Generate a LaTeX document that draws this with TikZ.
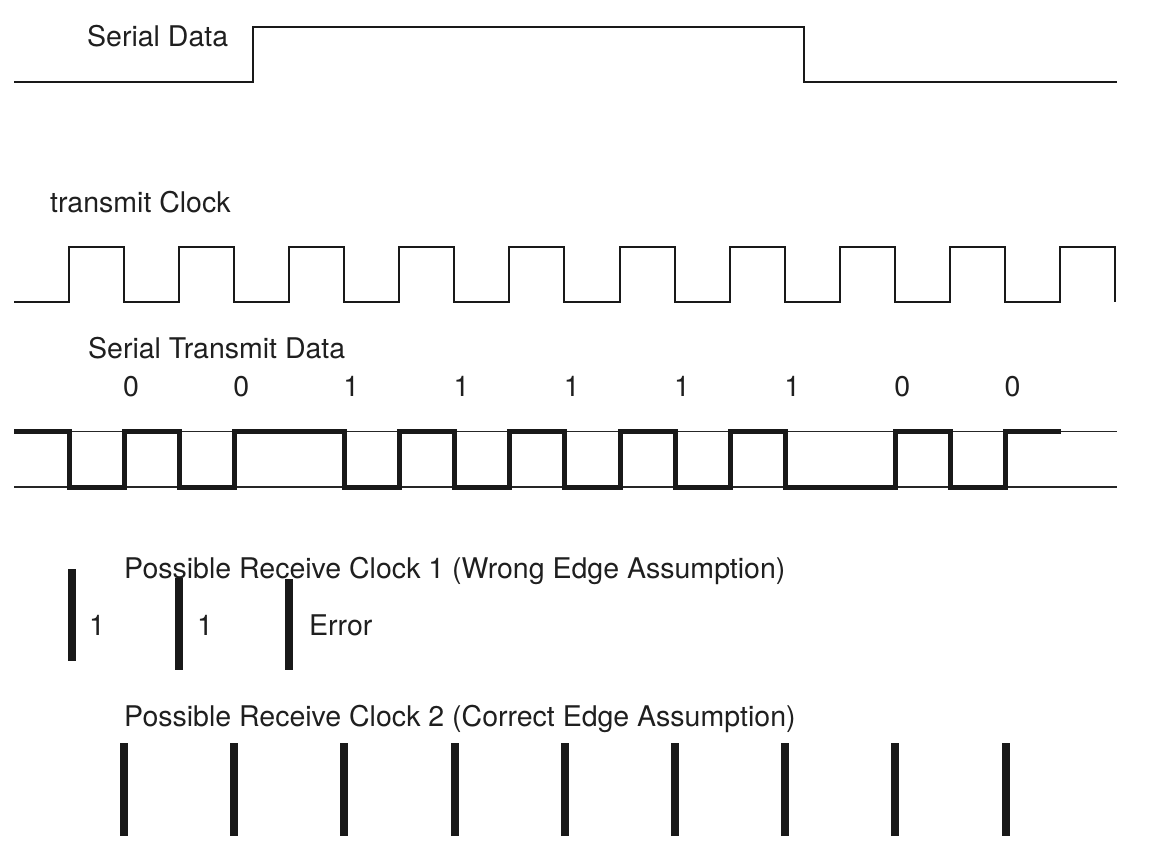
\documentclass[tikz,border=0pt]{standalone}
\usepackage{fontspec}
\setmainfont{TeX Gyre Heros}
\tikzset{lbl/.style={anchor=base west,inner sep=0pt,text=black!88},
  sig/.style={line width=2pt,black!90},
  rail/.style={line width=1.5pt,black!85},
  manch/.style={line width=5pt,black!90},
  tickbar/.style={line width=8pt,black!90}}
\begin{document}
\begin{tikzpicture}[x=1pt,y=-1pt]\fontsize{28.5}{34}\selectfont
\useasboundingbox (0,0) rectangle (1154,860);
% serial data
\node[lbl] (sdata) at (87,46) {Serial Data};
\draw[sig] (14,82) -- (253,82) -- (253,27) -- (804,27) -- (804,82) -- (1117,82);
% transmit clock
\node[lbl] (tclock) at (50,212) {transmit Clock};
\draw[sig] (14,302) \foreach \x in {0,...,9} { -- ({68.5+110.2*\x},302) -- ({68.5+110.2*\x},247) -- ({123.6+110.2*\x},247) -- ({123.6+110.2*\x},302)};
% serial transmit data
\node[lbl] (stdata) at (88,358) {Serial Transmit Data};
\foreach \b [count=\i from 0] in {0,0,1,1,1,1,1,0,0} \node[anchor=base,inner sep=0pt,text=black!88] (bit\i) at ({131+110.2*\i},396) {\b};
\draw[rail] (14,431.5) -- (1117,431.5);
\draw[rail] (14,487) -- (1117,487);
\draw[manch] (14,431.5) -- (69,431.5) -- (69,487) -- (124.1,487) -- (124.1,431.5) -- (179.2,431.5) -- (179.2,487) -- (234.3,487) -- (234.3,431.5) -- (344.5,431.5) -- (344.5,487) -- (399.6,487) -- (399.6,431.5) -- (454.7,431.5) -- (454.7,487) -- (509.8,487) -- (509.8,431.5) -- (564.9,431.5) -- (564.9,487) -- (620,487) -- (620,431.5) -- (675.1,431.5) -- (675.1,487) -- (730.2,487) -- (730.2,431.5) -- (785.3,431.5) -- (785.3,487) -- (895.5,487) -- (895.5,431.5) -- (950.6,431.5) -- (950.6,487) -- (1005.7,487) -- (1005.7,431.5) -- (1060.8,431.5);
% receive clock 1
\node[lbl] (rclk1) at (124,578) {Possible Receive Clock 1 (Wrong Edge Assumption)};
\draw[tickbar] (72,569) -- (72,661);
\draw[tickbar] (179,578) -- (179,670);
\draw[tickbar] (289,579) -- (289,670);
\node[lbl] (rone) at (89,635) {1};
\node[lbl] (rtwo) at (197,635) {1};
\node[lbl] (rerr) at (309,635) {Error};
% receive clock 2
\node[lbl] (rclk2) at (124,726) {Possible Receive Clock 2 (Correct Edge Assumption)};
\foreach \i in {0,...,8} \draw[tickbar] ({124+110.2*\i},743) -- ({124+110.2*\i},836);
\end{tikzpicture}
\end{document}
